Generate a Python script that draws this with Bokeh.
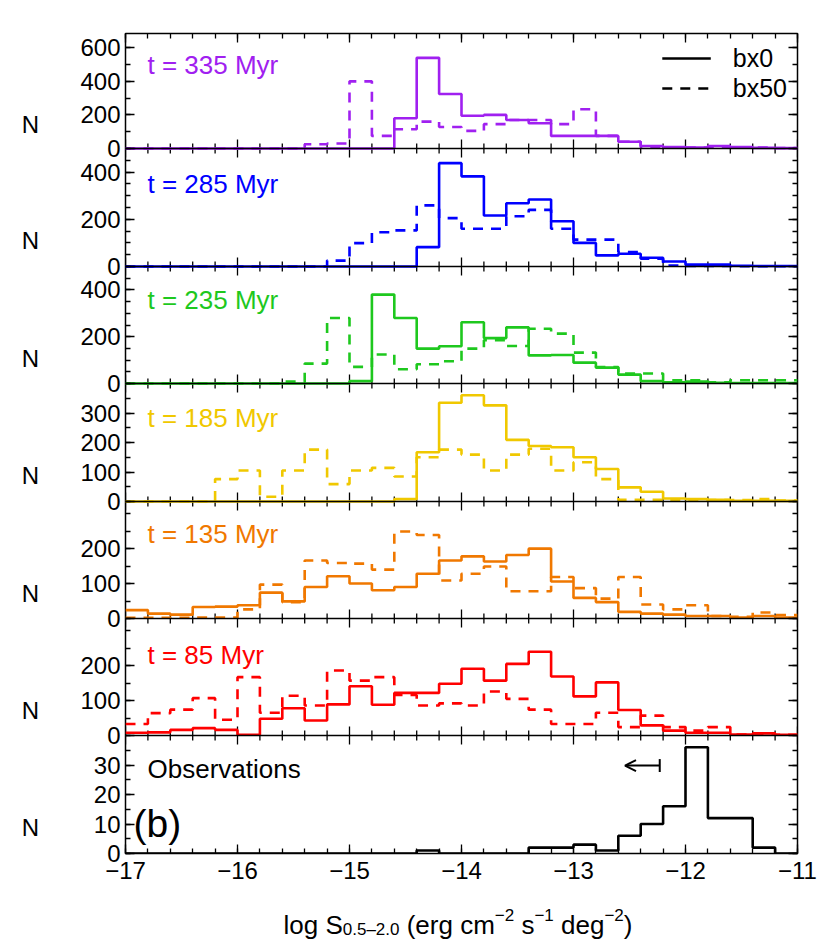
import numpy as np
from bokeh.plotting import figure
from bokeh.layouts import column, row
from bokeh.models import (Range1d, FixedTicker, LinearAxis, Label, Legend, LegendItem,
                          Arrow, OpenHead, TeeHead, CustomJSTickFormatter, Span)
from bokeh.embed import file_html
from bokeh.resources import INLINE

# ---------------- data ----------------
x_lo, x_hi, bin_width = -17.0, -11.0, 0.2
x_major = [-17, -16, -15, -14, -13, -12, -11]
x_labels = ["\u221217", "\u221216", "\u221215", "\u221214", "\u221213", "\u221212", "\u221211"]

t335_bx0 = [0,0,0,0,0,0,0,0,0,0,0,0,180,540,325,195,200,170,150,75,75,75,40,15,8,5,15,8,4,2]
t335_bx50 = [0,0,0,0,0,0,0,0,25,30,400,75,115,160,128,105,145,170,170,145,234,75,40,8,5,5,5,5,5,3]

t285_bx0 = [0,0,0,0,0,0,0,0,0,0,0,0,0,82,438,382,216,268,284,192,100,47,54,37,21,8,8,3,2,2]
t285_bx50 = [0,0,0,0,0,0,0,0,0,25,99,145,153,259,205,160,160,213,240,160,114,114,61,33,4,2,2,1,1,1]

t235_bx0 = [0,0,0,0,0,0,0,0,0,0,10,380,280,149,159,262,194,240,120,122,89,68,38,10,5,8,3,2,2,2]
t235_bx50 = [0,0,0,0,0,0,0,8,85,280,71,124,61,82,95,149,185,160,234,213,132,70,43,43,14,14,5,14,14,14]

t185_bx0 = [0,0,0,0,0,0,0,0,0,0,0,0,8,167,335,360,326,209,188,184,150,110,48,33,10,8,6,2,2,2]
t185_bx50 = [0,0,0,0,76,105,16,105,176,59,105,114,85,150,176,159,105,159,179,105,133,76,6,6,5,5,5,5,8,3]

t135_bx0 = [24,14,11,33,34,38,74,49,90,121,100,81,90,128,166,178,163,182,200,106,59,47,19,14,11,7,7,3,7,3]
t135_bx50 = [2,2,2,3,3,26,97,47,166,159,157,140,249,239,109,128,149,78,78,119,87,57,119,40,26,38,7,5,17,10]

t85_bx0 = [8,9,16,21,16,2,48,78,43,89,141,88,122,122,148,191,157,205,240,169,112,152,73,29,14,8,8,3,6,2]
t85_bx50 = [33,64,74,107,45,167,65,114,86,186,157,167,116,86,92,86,126,105,74,33,33,65,24,57,24,14,24,3,6,2]

obs_counts = [0,0,0,0,0,0,0,0,0,0,0,0,0,1,0,0,0,0,2,2,3,1,6,10,16,36,12,12,2,0]
obs_limit = -12.23
obs_limit_len = 0.31
obs_limit_y = 29.8

titles = ["t = 335 Myr", "t = 285 Myr", "t = 235 Myr", "t = 185 Myr", "t = 135 Myr", "t = 85 Myr"]
colors = ["#a020f0", "#0000ff", "#1ec81e", "#f0c800", "#f07800", "#ff0000"]
solid_series = [t335_bx0, t285_bx0, t235_bx0, t185_bx0, t135_bx0, t85_bx0]
dashed_series = [t335_bx50, t285_bx50, t235_bx50, t185_bx50, t135_bx50, t85_bx50]
y_max = [685, 500, 500, 400, 335, 335, 40]
y_major = [[0, 200, 400, 600], [0, 200, 400], [0, 200, 400], [0, 100, 200, 300],
           [0, 100, 200], [0, 100, 200], [0, 10, 20, 30]]
y_minor_step = [100, 50, 50, 50, 50, 50, 5]

# ---------------- layout constants ----------------
FONT = "Liberation Sans"
TICK_FS = "24px"
FRAME_W, FRAME_H = 672, 820
TOP_BORDER = 33
BOTTOM_BORDER = 40
LEFT_W = 60
MAIN_LEFT = 65
RIGHT_B = 25
slot_top = [820, 705, 587, 470, 352, 235, 118]
slot_bot = [705, 587, 470, 352, 235, 118, 0]
title_dy = [31, 35, 33, 34, 32, 36]
px_per_dex = FRAME_W / (x_hi - x_lo)
n_pan = len(y_max)

edges = list(np.round(x_lo + bin_width * np.arange(int(round((x_hi - x_lo) / bin_width)) + 1), 3))
x_minor = list(np.round(np.arange(x_lo, x_hi + 1e-9, bin_width), 3))


def px_x(px):
    return x_lo + px / px_per_dex


NEAREST = """
let b = 0;
for (let i = 1; i < pos.length; i++) {
  if (Math.abs(pos[i] - tick) < Math.abs(pos[b] - tick)) b = i;
}
return lab[b];
"""


def styled_axis(ticker, formatter, show, standoff=4):
    a = LinearAxis(ticker=ticker, axis_line_color=None,
                   major_tick_in=9, major_tick_out=0, minor_tick_in=5, minor_tick_out=0,
                   major_tick_line_color="black", minor_tick_line_color="black",
                   major_tick_line_width=1.3, minor_tick_line_width=1.3,
                   major_label_text_font=FONT, major_label_text_font_size=TICK_FS,
                   major_label_text_color="black", major_label_standoff=standoff)
    if show:
        a.formatter = formatter
    else:
        a.formatter = CustomJSTickFormatter(code="return '';")
        a.major_label_text_font_size = "1px"
        a.major_label_text_color = None
        a.major_label_standoff = 0
    return a


# ---------------- main figure (all seven panels share one frame) ----------------
p = figure(frame_width=FRAME_W, frame_height=FRAME_H,
           x_range=Range1d(x_lo, x_hi), y_range=Range1d(0, FRAME_H),
           x_axis_location=None, y_axis_location=None,
           output_backend="svg", toolbar_location=None,
           min_border_left=MAIN_LEFT, min_border_right=RIGHT_B,
           min_border_top=TOP_BORDER, min_border_bottom=BOTTOM_BORDER,
           outline_line_color="black", outline_line_width=1.5,
           background_fill_color="white", border_fill_color="white")
p.grid.visible = False

scales = [(slot_top[i] - slot_bot[i]) / y_max[i] for i in range(n_pan)]
p.extra_y_ranges = {f"p{i}": Range1d(-slot_bot[i] / scales[i], (FRAME_H - slot_bot[i]) / scales[i])
                    for i in range(n_pan)}

ypos, ylab, yminor = [], [], []
for i in range(n_pan):
    for v in y_major[i]:
        ypos.append(slot_bot[i] + v * scales[i])
        ylab.append(str(v))
    for v in np.arange(0, y_max[i] + 1e-9, y_minor_step[i]):
        yminor.append(slot_bot[i] + v * scales[i])
yfmt = CustomJSTickFormatter(args=dict(pos=ypos, lab=ylab), code=NEAREST)
xfmt = CustomJSTickFormatter(args=dict(pos=x_major, lab=x_labels), code=NEAREST)
yt = FixedTicker(ticks=ypos, minor_ticks=yminor)
xt = FixedTicker(ticks=x_major, minor_ticks=x_minor)

p.add_layout(styled_axis(yt, yfmt, True, 5), "left")
p.add_layout(styled_axis(yt, None, False), "right")
p.add_layout(styled_axis(xt, xfmt, True, 8), "below")
p.add_layout(styled_axis(xt, None, False), "above")

inner = slot_bot[:-1]
for b in inner:
    p.add_layout(Span(location=b, dimension="width", line_color="black", line_width=1.5))
sx0, sy0, sy1 = [], [], []
for b in inner:
    for xv in x_minor:
        ln = 9 if abs(xv - round(xv)) < 1e-6 else 5
        sx0.append(xv)
        sy0.append(b - ln)
        sy1.append(b + ln)
p.segment(x0=sx0, y0=sy0, x1=sx0, y1=sy1, line_color="black", line_width=1.3)


def histo(vals, color, dashed, rname):
    yy = list(vals) + [vals[-1]]
    kw = dict(line_color=color, line_width=2.6, y_range_name=rname)
    if dashed:
        kw["line_dash"] = "10 8"
    p.step(x=edges, y=yy, mode="after", **kw)


for i in range(n_pan - 1):
    histo(solid_series[i], colors[i], False, f"p{i}")
    histo(dashed_series[i], colors[i], True, f"p{i}")
    p.add_layout(Label(x=px_x(22), y=slot_top[i] - title_dy[i], text=titles[i],
                       text_color=colors[i], text_font=FONT, text_font_size="26px",
                       text_baseline="middle", text_align="left"))

obs_r = f"p{n_pan - 1}"
histo(obs_counts, "black", False, obs_r)
p.add_layout(Label(x=px_x(22), y=slot_top[-1] - 33, text="Observations",
                   text_color="black", text_font=FONT, text_font_size="26px",
                   text_baseline="middle"))
p.add_layout(Label(x=px_x(8), y=slot_top[-1] - 88, text="(b)",
                   text_color="black", text_font=FONT, text_font_size="39px",
                   text_baseline="middle"))
p.add_layout(Arrow(x_start=obs_limit, y_start=obs_limit_y,
                   x_end=obs_limit - obs_limit_len, y_end=obs_limit_y, y_range_name=obs_r,
                   line_width=2, line_color="black",
                   start=TeeHead(size=13, line_width=2, line_color="black"),
                   end=OpenHead(size=11, line_width=2, line_color="black")))

r1 = p.line(x=[np.nan], y=[np.nan], line_color="black", line_width=2.6)
r2 = p.line(x=[np.nan], y=[np.nan], line_color="black", line_width=2.6, line_dash="10 8")
leg = Legend(items=[LegendItem(label="bx0", renderers=[r1]),
                    LegendItem(label="bx50", renderers=[r2])],
             location="top_right", background_fill_alpha=0, border_line_color=None,
             label_text_font=FONT, label_text_font_size="25px", label_text_color="black",
             glyph_width=49, glyph_height=30, label_height=30, spacing=0,
             padding=10, margin=10, label_standoff=22)
p.add_layout(leg)

# ---------------- left strip with the "N" labels ----------------
NH = TOP_BORDER + FRAME_H
fn = figure(frame_width=LEFT_W, frame_height=NH, x_range=Range1d(0, LEFT_W), y_range=Range1d(0, NH),
            x_axis_location=None, y_axis_location=None, output_backend="svg", toolbar_location=None,
            min_border=0, outline_line_color=None, background_fill_color="white",
            border_fill_color="white")
fn.grid.visible = False
for i in range(n_pan):
    fn.add_layout(Label(x=30, y=(slot_top[i] + slot_bot[i]) / 2, text="N", text_font=FONT,
                        text_font_size="24px", text_color="black",
                        text_align="center", text_baseline="middle"))

# ---------------- bottom strip: x-axis title ----------------
BW = LEFT_W + MAIN_LEFT + FRAME_W + RIGHT_B
BH = 54
off_left = LEFT_W + MAIN_LEFT
fb = figure(frame_width=BW, frame_height=BH,
            x_range=Range1d(x_lo - off_left / px_per_dex, x_lo + (BW - off_left) / px_per_dex),
            y_range=Range1d(-BH, 0),
            x_axis_location=None, y_axis_location=None, output_backend="svg", toolbar_location=None,
            min_border=0, outline_line_color=None, background_fill_color="white",
            border_fill_color="white")
fb.grid.visible = False

space_w = 0.278
widths = {'l': .222, 'o': .556, 'g': .556, ' ': .278, 'S': .667, '0': .556, '.': .278,
          '5': .556, '\u2013': .556, '2': .556, '(': .333, 'e': .556, 'r': .333,
          'c': .5, 'm': .833, '\u2212': .584, 's': .5, '1': .556, 'd': .556, ')': .333}
main_fs, scr_fs = 26, 17
pieces = [("log S", 0, 0), ("0.5\u20132.0", -1, 0), ("(erg cm", 0, 1), ("\u22122", 1, 0),
          ("s", 0, 1), ("\u22121", 1, 0), ("deg", 0, 1), ("\u22122", 1, 0), (")", 0, 0)]
cx = 283.0 - off_left
base = 31
for txt, kind, lead in pieces:
    fs = main_fs if kind == 0 else scr_fs
    cx += lead * space_w * main_fs
    dy = {0: 0, -1: 5, 1: -10}[kind]
    fb.add_layout(Label(x=px_x(cx), y=-(base + dy), text=txt, text_font=FONT,
                        text_font_size=f"{fs}px", text_color="black",
                        text_baseline="alphabetic", text_align="left"))
    cx += sum(widths.get(ch, .556) for ch in txt) * fs

layout = column(row(fn, p, spacing=0), fb, spacing=0)
open("out.html", "w").write(file_html(layout, INLINE, title="histograms"))
